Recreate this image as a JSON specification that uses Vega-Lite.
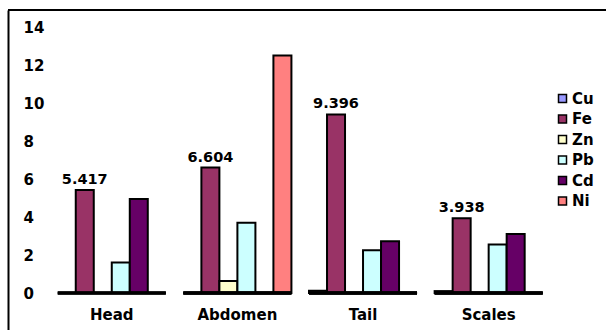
{
  "$schema": "https://vega.github.io/schema/vega-lite/v6.json",
  "autosize": {"type": "none"},
  "padding": {"left": 8, "top": 10, "right": 0, "bottom": 0},
  "width": 598,
  "height": 320,
  "background": "white",
  "config": {
    "view": {"stroke": null},
    "font": "DejaVu Sans"
  },
  "data": {
    "values": [
      {"part": "Head", "metal": "Fe", "value": 5.417},
      {"part": "Head", "metal": "Pb", "value": 1.6},
      {"part": "Head", "metal": "Cd", "value": 4.95},
      {"part": "Abdomen", "metal": "Fe", "value": 6.604},
      {"part": "Abdomen", "metal": "Zn", "value": 0.63},
      {"part": "Abdomen", "metal": "Pb", "value": 3.7},
      {"part": "Abdomen", "metal": "Ni", "value": 12.5},
      {"part": "Tail", "metal": "Cu", "value": 0.12},
      {"part": "Tail", "metal": "Fe", "value": 9.396},
      {"part": "Tail", "metal": "Pb", "value": 2.25},
      {"part": "Tail", "metal": "Cd", "value": 2.72},
      {"part": "Scales", "metal": "Cu", "value": 0.1},
      {"part": "Scales", "metal": "Fe", "value": 3.938},
      {"part": "Scales", "metal": "Pb", "value": 2.55},
      {"part": "Scales", "metal": "Cd", "value": 3.1}
    ]
  },
  "layer": [
    {
      "mark": {"type": "bar", "stroke": "black", "strokeWidth": 2},
      "encoding": {
        "x": {
          "field": "part",
          "type": "nominal",
          "sort": ["Head", "Abdomen", "Tail", "Scales"],
          "scale": {"paddingInner": 0.14, "paddingOuter": 0.45, "align": 0.44},
          "axis": {
            "title": null,
            "domain": false,
            "ticks": false,
            "tickSize": 0,
            "offset": -25,
            "labelPadding": 2,
            "labelFontSize": 15,
            "labelFontWeight": "bold",
            "labelAngle": 0,
            "labelColor": "black"
          }
        },
        "xOffset": {
          "field": "metal",
          "type": "nominal",
          "scale": {"domain": ["Cu", "Fe", "Zn", "Pb", "Cd", "Ni"], "paddingInner": 0, "paddingOuter": 0}
        },
        "y": {
          "field": "value",
          "type": "quantitative",
          "stack": null,
          "scale": {"domain": [-1.947, 14.895], "nice": false, "zero": false},
          "axis": {
            "title": null,
            "values": [0, 2, 4, 6, 8, 10, 12, 14],
            "domain": true,
            "domainColor": "black",
            "domainWidth": 2,
            "ticks": false,
            "tickSize": 0,
            "grid": false,
            "labelAlign": "left",
            "labelPadding": -15,
            "labelFontSize": 15,
            "labelFontWeight": "bold",
            "labelColor": "black"
          }
        },
        "color": {
          "field": "metal",
          "type": "nominal",
          "scale": {
            "domain": ["Cu", "Fe", "Zn", "Pb", "Cd", "Ni"],
            "range": ["#9999FF", "#993366", "#FFFFCC", "#CCFFFF", "#660066", "#FF8080"]
          },
          "legend": {
            "orient": "none",
            "legendX": 547,
            "legendY": 81,
            "title": null,
            "symbolType": "square",
            "symbolSize": 64,
            "symbolStrokeColor": "black",
            "symbolStrokeWidth": 1.5,
            "symbolOpacity": 1,
            "labelFontSize": 15,
            "labelFontWeight": "bold",
            "labelColor": "black",
            "labelOffset": 2,
            "rowPadding": 4.5
          }
        }
      }
    },
    {
      "mark": {"type": "tick", "orient": "horizontal", "size": 108, "thickness": 3, "color": "black", "opacity": 1},
      "encoding": {
        "x": {"field": "part", "type": "nominal", "sort": ["Head", "Abdomen", "Tail", "Scales"]},
        "y": {"datum": 0, "type": "quantitative"}
      }
    },
    {
      "mark": {"type": "rule", "color": "black", "strokeWidth": 2},
      "encoding": {
        "y": {"datum": 14.895, "type": "quantitative"}
      }
    },
    {
      "transform": [{"filter": "datum.metal === 'Fe'"}],
      "mark": {"type": "text", "baseline": "bottom", "dy": -3, "fontSize": 14.5, "fontWeight": "bold", "color": "black"},
      "encoding": {
        "x": {"field": "part", "type": "nominal", "sort": ["Head", "Abdomen", "Tail", "Scales"]},
        "xOffset": {
          "field": "metal",
          "type": "nominal",
          "scale": {"domain": ["Cu", "Fe", "Zn", "Pb", "Cd", "Ni"], "paddingInner": 0, "paddingOuter": 0}
        },
        "y": {"field": "value", "type": "quantitative"},
        "text": {"field": "value", "type": "quantitative", "format": ".3f"}
      }
    }
  ]
}
